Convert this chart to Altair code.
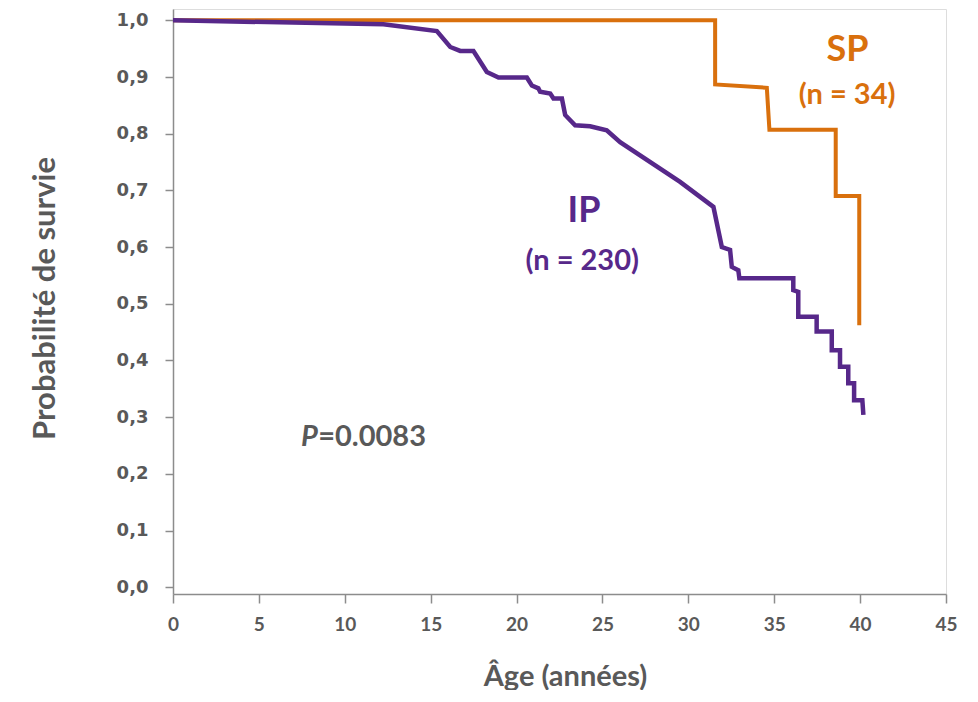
import altair as alt
import pandas as pd

# IP (n = 230) Kaplan-Meier curve
ip_age = [0, 12.25, 15.36, 16.14, 16.72, 17.49, 18.27, 18.95, 20.60, 20.89,
          21.27, 21.37, 21.96, 22.15, 22.64, 22.83, 23.41, 24.28, 25.25, 26.03,
          29.52, 31.46, 31.95, 32.43, 32.53, 32.91, 32.97, 36.11, 36.11, 36.40,
          36.40, 37.47, 37.47, 38.35, 38.35, 38.83, 38.83, 39.31, 39.31, 39.65,
          39.65, 40.13, 40.19]
ip_surv = [1.0, 0.993, 0.981, 0.953, 0.946, 0.946, 0.909, 0.899, 0.899, 0.885,
           0.880, 0.874, 0.871, 0.862, 0.862, 0.833, 0.815, 0.813, 0.806, 0.785,
           0.715, 0.671, 0.600, 0.595, 0.565, 0.559, 0.545, 0.545, 0.524, 0.521,
           0.477, 0.477, 0.451, 0.451, 0.418, 0.418, 0.389, 0.389, 0.360, 0.360,
           0.330, 0.330, 0.304]

# SP (n = 34)
sp_age = [0, 31.56, 31.56, 34.57, 34.72, 38.58, 38.58, 39.95, 39.95]
sp_surv = [1.0, 1.0, 0.887, 0.881, 0.807, 0.807, 0.690, 0.690, 0.462]

x_ticks = [0, 5, 10, 15, 20, 25, 30, 35, 40, 45]
y_ticks = [0.0, 0.1, 0.2, 0.3, 0.4, 0.5, 0.6, 0.7, 0.8, 0.9, 1.0]

PURPLE = "#57288A"
ORANGE = "#D9700D"
GRAY = "#595959"

ip = pd.DataFrame({"age": ip_age, "surv": ip_surv, "i": range(len(ip_age))})
sp = pd.DataFrame({"age": sp_age, "surv": sp_surv, "i": range(len(sp_age))})

xscale = alt.Scale(domain=[0, 45], nice=False, zero=False)
yscale = alt.Scale(domain=[-0.012, 1.02], nice=False, zero=False)

xaxis = alt.Axis(values=x_ticks, title="Âge (années)", grid=False,
                 domainColor="#8C8C8C", domainWidth=1.5, tickColor="#8C8C8C",
                 tickWidth=1.5, tickSize=9, labelPadding=12,
                 labelFont="Lato", labelFontSize=19, labelFontWeight="bold",
                 labelColor=GRAY, labelFlush=False,
                 titleFont="Lato", titleFontSize=29, titleFontWeight="bold",
                 titleColor=GRAY, titleX=392, titleY=82, titleAlign="center",
                 titleBaseline="middle")
yaxis = alt.Axis(values=y_ticks, title="Probabilité de survie", grid=False,
                 labelExpr="replace(format(datum.value, '.1f'), '.', ',')",
                 domainColor="#8C8C8C", domainWidth=1.5, tickColor="#8C8C8C",
                 tickWidth=1.5, tickSize=8, labelPadding=17,
                 labelFont="DejaVu Sans", labelFontSize=18, labelFontWeight="bold",
                 labelColor=GRAY, labelFlush=False,
                 titleFont="Lato", titleFontSize=31, titleFontWeight="bold",
                 titleColor=GRAY, titleX=-128, titleY=289, titleAngle=270,
                 titleAlign="center", titleBaseline="middle")

sp_line = alt.Chart(sp).mark_line(color=ORANGE, strokeWidth=4).encode(
    x=alt.X("age:Q", scale=xscale, axis=xaxis),
    y=alt.Y("surv:Q", scale=yscale, axis=yaxis),
    order="i:Q",
)
ip_line = alt.Chart(ip).mark_line(color=PURPLE, strokeWidth=4.5).encode(
    x=alt.X("age:Q", scale=xscale),
    y=alt.Y("surv:Q", scale=yscale),
    order="i:Q",
)

# annotations
big_lbl = pd.DataFrame({"t": ["SP", "IP"], "age": [39.27, 23.93], "surv": [0.947, 0.663],
                        "c": [ORANGE, PURPLE]})
n_lbl = pd.DataFrame({"t": ["(n = 34)", "(n = 230)"], "age": [39.24, 23.82],
                      "surv": [0.868, 0.575], "c": [ORANGE, PURPLE]})
p_it = pd.DataFrame({"t": ["P"], "age": [7.45], "surv": [0.265]})
p_val = pd.DataFrame({"t": ["=0.0083"], "age": [8.45], "surv": [0.265]})

big = alt.Chart(big_lbl).mark_text(font="Lato", fontSize=36, fontWeight="bold",
                                   baseline="middle").encode(
    x=alt.X("age:Q", scale=xscale), y=alt.Y("surv:Q", scale=yscale),
    text="t:N", color=alt.Color("c:N", scale=None))
small = alt.Chart(n_lbl).mark_text(font="Lato", fontSize=29, fontWeight="bold",
                                   baseline="middle").encode(
    x=alt.X("age:Q", scale=xscale), y=alt.Y("surv:Q", scale=yscale),
    text="t:N", color=alt.Color("c:N", scale=None))
pit = alt.Chart(p_it).mark_text(font="Lato", fontSize=29, fontWeight="bold",
                                fontStyle="italic", align="left", baseline="middle",
                                color=GRAY).encode(
    x=alt.X("age:Q", scale=xscale), y=alt.Y("surv:Q", scale=yscale), text="t:N")
pval = alt.Chart(p_val).mark_text(font="Lato", fontSize=29, fontWeight="bold",
                                  align="left", baseline="middle",
                                  color=GRAY).encode(
    x=alt.X("age:Q", scale=xscale), y=alt.Y("surv:Q", scale=yscale), text="t:N")

chart = alt.layer(sp_line, ip_line, big, small, pit, pval).properties(
    width=773, height=585,
    autosize=alt.AutoSizeParams(type="none"),
    padding={"left": 165, "top": 1, "right": 20, "bottom": 96},
).configure_view(stroke=None).configure(background="white")

chart.save("out.html", embed_options={"renderer": "svg", "actions": False})
